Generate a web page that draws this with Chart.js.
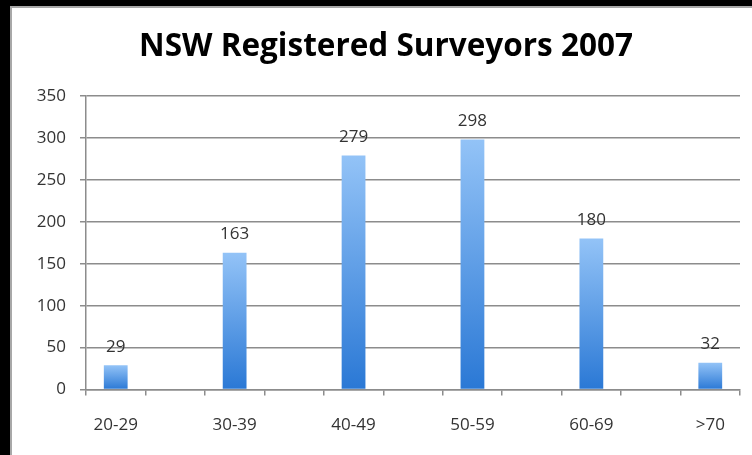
<!DOCTYPE html>
<html>
<head>
<meta charset="utf-8">
<script src="https://cdn.jsdelivr.net/npm/chart.js@4/dist/chart.umd.min.js"></script>
<style>
  html, body { margin: 0; padding: 0; background: #000; }
  body { width: 752px; height: 455px; position: relative; overflow: hidden; }
  #wrap {
    position: absolute; left: 10px; top: 6px; right: 0; bottom: 0;
    background: #fff; border-left: 2px solid #a8a8a8; border-top: 2px solid #a8a8a8;
  }
  #chart { display: block; }
</style>
</head>
<body>
<div id="wrap"><canvas id="chart" width="740" height="447"></canvas></div>
<script>
const ageGroups = ["20-29", "30-39", "40-49", "50-59", "60-69", ">70"];
const surveyors = [29, 163, 279, 298, 180, 32];
const yMax = 350;
const yStep = 50;

// empty slot between every age group, like the original sheet
const labels = [];
const values = [];
ageGroups.forEach((g, i) => {
  if (i) { labels.push(""); values.push(null); }
  labels.push(g);
  values.push(surveyors[i]);
});

const AXIS_GREY = "#8c8c8c";
const TEXT = "#333";
const FONT = "'Open Sans', 'DejaVu Sans', sans-serif";

function barGradient(context) {
  const chart = context.chart;
  const { ctx, chartArea, scales } = chart;
  if (!chartArea || context.raw == null) return "#5a9ee8";
  const top = scales.y.getPixelForValue(context.raw);
  const base = scales.y.getPixelForValue(0);
  const g = ctx.createLinearGradient(0, top, 0, base);
  g.addColorStop(0, "#93c3f7");
  g.addColorStop(1, "#2a78d5");
  return g;
}

const valueLabels = {
  id: "valueLabels",
  afterDatasetsDraw(chart) {
    const { ctx } = chart;
    const meta = chart.getDatasetMeta(0);
    ctx.save();
    ctx.font = `17px ${FONT}`;
    ctx.fillStyle = TEXT;
    ctx.textAlign = "center";
    ctx.textBaseline = "bottom";
    meta.data.forEach((bar, i) => {
      const v = values[i];
      if (v == null) return;
      ctx.fillText(String(v), bar.x, bar.y - 10);
    });
    ctx.restore();
  },
};

new Chart(document.getElementById("chart"), {
  type: "bar",
  data: {
    labels,
    datasets: [{
      data: values,
      backgroundColor: barGradient,
      borderWidth: 0,
      barPercentage: 0.4,
      categoryPercentage: 1,
    }],
  },
  options: {
    responsive: false,
    animation: false,
    layout: { padding: { left: 20, right: 12, top: 0, bottom: 1 } },
    plugins: {
      legend: { display: false },
      tooltip: { enabled: false },
      title: {
        display: true,
        text: "NSW Registered Surveyors 2007",
        color: "#000",
        font: { family: FONT, size: 31.5, weight: "bold" },
        padding: { top: 20, bottom: 30 },
      },
    },
    scales: {
      x: {
        grid: {
          offset: true,
          drawOnChartArea: false,
          tickLength: 6,
          color: AXIS_GREY,
          lineWidth: 1.5,
        },
        border: { color: AXIS_GREY, width: 1.5 },
        ticks: {
          color: TEXT,
          font: { family: FONT, size: 17 },
          padding: 19,
          autoSkip: false,
          maxRotation: 0,
        },
      },
      y: {
        min: 0,
        max: yMax,
        afterFit(scale) { scale.width = 54; },
        grid: { color: AXIS_GREY, lineWidth: 1.5, tickLength: 6 },
        border: { color: AXIS_GREY, width: 1.5 },
        ticks: {
          stepSize: yStep,
          color: TEXT,
          font: { family: FONT, size: 17 },
          padding: 14,
        },
      },
    },
  },
  plugins: [valueLabels],
});
</script>
</body>
</html>
